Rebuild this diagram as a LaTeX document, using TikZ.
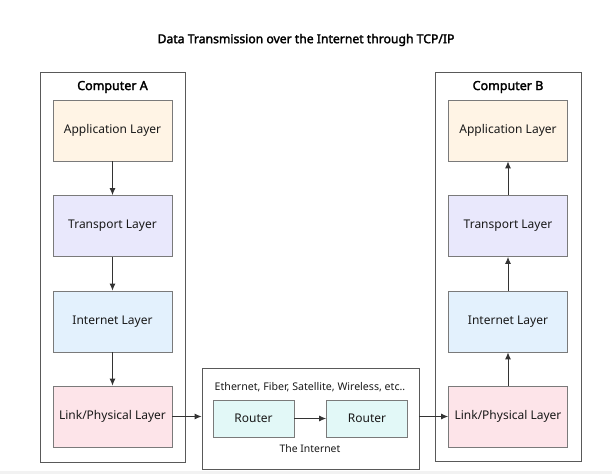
\documentclass[tikz,border=0pt]{standalone}
\usepackage{fontspec}
\setmainfont{Noto Sans}[AutoFakeBold=2.2]
\usepackage{tikz}
\usetikzlibrary{calc}
\usetikzlibrary{arrows.meta}
\definecolor{appcol}{HTML}{FFF4E5}
\definecolor{trancol}{HTML}{E9E8FC}
\definecolor{netcol}{HTML}{E3F1FD}
\definecolor{linkcol}{HTML}{FDE4E9}
\definecolor{routcol}{HTML}{E2F8F7}
\definecolor{edgecol}{HTML}{7A7A7A}
\tikzset{
  layer/.style={draw=edgecol, thick, minimum width=119pt, minimum height=61pt, inner sep=0pt, font=\fontsize{12}{14}\selectfont, text=black!90},
  router/.style={draw=edgecol, thick, fill=routcol, minimum width=81pt, minimum height=37pt, inner sep=0pt, font=\fontsize{12}{14}\selectfont, text=black!90},
  frame/.style={draw=black!65, thick},
  flow/.style={-{Latex[length=7pt,width=6pt]}, black!80, line width=0.9pt}
}
\newcommand{\layer}[5]{\node[layer, fill=#4] (#1) at ( #2 , #3 ) {#5};}

\begin{document}
\begin{tikzpicture}[x=1pt, y=-1pt]
        \useasboundingbox (0,0) rectangle (612,474);
        \fill[black!5] (0,471) rectangle (612,474);
        % title
        \node[font=\fontsize{12.2}{14}\selectfont\bfseries, text=black] (title) at (306,40) {Data Transmission over the Internet through TCP/IP};
        % computer A
        \draw[frame] (40,72) rectangle (185,462);
        \node[font=\fontsize{12.5}{15}\selectfont\bfseries, text=black] (compA) at (112.5,87) {Computer A};
        \layer{appA}{112.5}{130.5}{appcol}{Application Layer}
        \layer{tranA}{112.5}{226}{trancol}{Transport Layer}
        \layer{netA}{112.5}{321.5}{netcol}{Internet Layer}
        \layer{linkA}{112.5}{416.5}{linkcol}{Link/Physical Layer}
        % computer B
        \draw[frame] (435,72) rectangle (581,461);
        \node[font=\fontsize{12.5}{15}\selectfont\bfseries, text=black] (compB) at (508,87) {Computer B};
        \layer{appB}{508}{130.5}{appcol}{Application Layer}
        \layer{tranB}{508}{226}{trancol}{Transport Layer}
        \layer{netB}{508}{321.5}{netcol}{Internet Layer}
        \layer{linkB}{508}{416.5}{linkcol}{Link/Physical Layer}
        % the internet
        \node[frame, minimum width=217pt, minimum height=101pt, inner sep=0pt] (inet) at (310.5,418.5) {};
        \node[font=\fontsize{10.6}{12}\selectfont, text=black!90] (media) at (310,387) {Ethernet, Fiber, Satellite, Wireless, etc..};
        \node[router] (rout1) at (253.5,418.5) {Router};
        \node[router] (rout2) at (367,418.5) {Router};
        \node[font=\fontsize{10.4}{12}\selectfont, text=black!90] (inetlbl) at (310,449) {The Internet};
        % arrows down A
        \draw[flow] (appA) -- (tranA);
        \draw[flow] (tranA) -- (netA);
        \draw[flow] (netA) -- (linkA);
        % arrows through the internet
        \draw[flow] (linkA.east) -- (linkA.east -| inet.west);
        \draw[flow] (rout1) -- (rout2);
        \draw[flow] (linkB.west -| inet.east) -- (linkB.west);
        % arrows up B
        \draw[flow] (linkB) -- (netB);
        \draw[flow] (netB) -- (tranB);
        \draw[flow] (tranB) -- (appB);
    \end{tikzpicture}
\end{document}
